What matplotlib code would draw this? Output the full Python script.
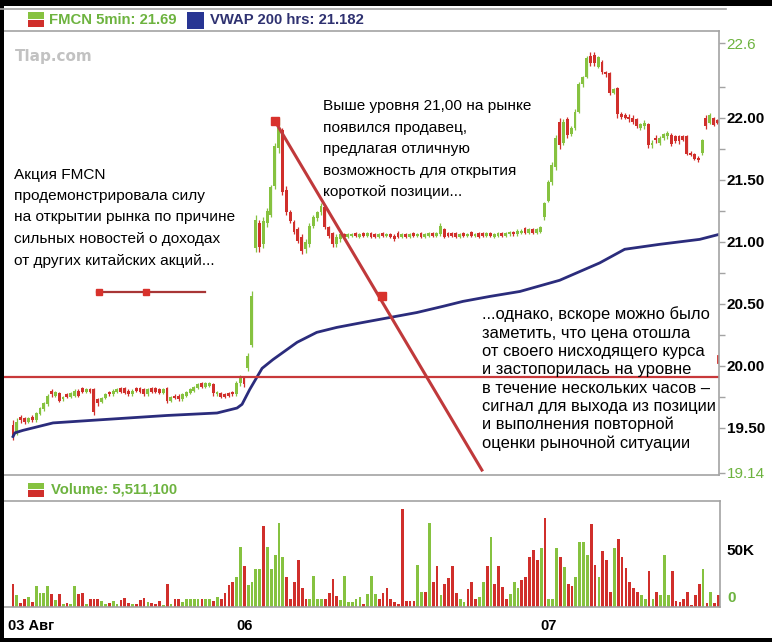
import numpy as np
import matplotlib.pyplot as plt
from matplotlib.patches import Rectangle
from matplotlib.lines import Line2D
from matplotlib.transforms import ScaledTranslation

plt.rcParams['font.family'] = ['Liberation Sans', 'DejaVu Sans']

# FMCN 5-min bars, 03 Aug (afternoon) .. 07 Aug
opens = [
    19.52, 19.45, 19.59, 19.58, 19.55, 19.59, 19.56, 19.61, 19.65, 19.69,
    19.80, 19.76, 19.78, 19.73, 19.77, 19.75, 19.76, 19.80, 19.82, 19.79,
    19.81, 19.81, 19.73, 19.71, 19.74, 19.79, 19.77, 19.79, 19.82, 19.82,
    19.80, 19.77, 19.82, 19.82, 19.81, 19.77, 19.82, 19.82, 19.81, 19.78,
    19.82, 19.72, 19.76, 19.76, 19.73, 19.76, 19.78, 19.80, 19.82, 19.86,
    19.83, 19.84, 19.85, 19.77, 19.78, 19.77, 19.78, 19.79, 19.77, 19.86,
    19.91, 19.98, 20.17, 20.95, 21.15, 20.98, 21.15, 21.22, 21.45, 21.76,
    21.90, 21.42, 21.24, 21.16, 21.10, 21.04, 20.94, 20.98, 21.13, 21.19,
    21.24, 21.28, 21.12, 21.07, 20.98, 21.02, 21.06, 21.04, 21.05, 21.07,
    21.04, 21.07, 21.05, 21.07, 21.06, 21.04, 21.07, 21.05, 21.06, 21.05,
    21.07, 21.04, 21.06, 21.04, 21.07, 21.05, 21.07, 21.04, 21.05, 21.07,
    21.05, 21.06, 21.10, 21.07, 21.07, 21.07, 21.04, 21.07, 21.05, 21.08,
    21.05, 21.07, 21.07, 21.05, 21.07, 21.04, 21.05, 21.07, 21.05, 21.06,
    21.08, 21.06, 21.07, 21.11, 21.07, 21.10, 21.07, 21.08, 21.20, 21.33,
    21.48, 21.60, 21.97, 21.80, 21.99, 21.87, 21.92, 22.05, 22.27, 22.33,
    22.50, 22.51, 22.41, 22.45, 22.37, 22.36, 22.20, 22.24, 22.03, 22.02,
    22.01, 22.00, 21.99, 21.92, 21.93, 21.95, 21.78, 21.84, 21.80, 21.84,
    21.85, 21.86, 21.85, 21.85, 21.85, 21.85, 21.72, 21.71, 21.68, 21.72,
    22.00, 21.96, 22.00, 21.98]
highs = [
    19.56, 19.58, 19.60, 19.59, 19.59, 19.60, 19.63, 19.67, 19.71, 19.77,
    19.81, 19.80, 19.79, 19.76, 19.78, 19.79, 19.81, 19.81, 19.83, 19.82,
    19.82, 19.82, 19.74, 19.75, 19.78, 19.80, 19.81, 19.82, 19.83, 19.83,
    19.81, 19.81, 19.83, 19.83, 19.82, 19.82, 19.83, 19.83, 19.82, 19.82,
    19.83, 19.76, 19.77, 19.77, 19.78, 19.80, 19.82, 19.84, 19.86, 19.87,
    19.87, 19.87, 19.86, 19.80, 19.79, 19.78, 19.79, 19.80, 19.88, 19.93,
    19.92, 20.10, 20.60, 21.22, 21.18, 21.20, 21.27, 21.46, 21.80, 22.00,
    21.92, 21.45, 21.26, 21.18, 21.12, 21.06, 21.02, 21.15, 21.22, 21.25,
    21.31, 21.30, 21.13, 21.08, 21.06, 21.07, 21.07, 21.07, 21.07, 21.08,
    21.07, 21.08, 21.08, 21.08, 21.07, 21.07, 21.08, 21.07, 21.07, 21.06,
    21.09, 21.07, 21.07, 21.07, 21.08, 21.07, 21.08, 21.07, 21.08, 21.08,
    21.08, 21.15, 21.11, 21.08, 21.08, 21.08, 21.07, 21.08, 21.07, 21.09,
    21.07, 21.08, 21.08, 21.08, 21.08, 21.07, 21.08, 21.08, 21.08, 21.09,
    21.09, 21.10, 21.10, 21.12, 21.11, 21.11, 21.11, 21.13, 21.32, 21.50,
    21.64, 21.86, 22.00, 21.99, 22.01, 21.93, 22.07, 22.29, 22.34, 22.50,
    22.53, 22.53, 22.50, 22.47, 22.38, 22.37, 22.24, 22.25, 22.05, 22.04,
    22.03, 22.02, 22.00, 21.96, 21.98, 21.96, 21.82, 21.86, 21.85, 21.88,
    21.89, 21.88, 21.86, 21.86, 21.86, 21.86, 21.73, 21.72, 21.69, 21.83,
    22.02, 22.04, 22.01, 21.99]
lows = [
    19.40, 19.44, 19.54, 19.53, 19.54, 19.55, 19.55, 19.60, 19.64, 19.68,
    19.75, 19.75, 19.71, 19.72, 19.74, 19.74, 19.75, 19.75, 19.78, 19.78,
    19.78, 19.60, 19.68, 19.70, 19.73, 19.76, 19.76, 19.78, 19.78, 19.77,
    19.76, 19.76, 19.79, 19.78, 19.76, 19.76, 19.78, 19.78, 19.77, 19.77,
    19.70, 19.71, 19.73, 19.72, 19.72, 19.75, 19.77, 19.79, 19.81, 19.82,
    19.82, 19.83, 19.76, 19.76, 19.74, 19.74, 19.75, 19.76, 19.76, 19.84,
    19.83, 19.96, 20.15, 20.92, 20.92, 20.95, 21.12, 21.20, 21.43, 21.72,
    21.38, 21.22, 21.15, 21.06, 20.99, 20.90, 20.91, 20.96, 21.11, 21.17,
    21.22, 21.10, 21.03, 20.96, 20.96, 21.00, 21.03, 21.03, 21.04, 21.04,
    21.03, 21.04, 21.04, 21.03, 21.03, 21.03, 21.04, 21.04, 21.03, 21.01,
    21.03, 21.03, 21.03, 21.03, 21.04, 21.04, 21.03, 21.03, 21.04, 21.04,
    21.04, 21.05, 21.03, 21.04, 21.04, 21.03, 21.03, 21.04, 21.04, 21.04,
    21.04, 21.03, 21.04, 21.04, 21.04, 21.03, 21.04, 21.04, 21.04, 21.05,
    21.05, 21.05, 21.06, 21.06, 21.06, 21.06, 21.06, 21.07, 21.18, 21.32,
    21.46, 21.58, 21.75, 21.78, 21.84, 21.85, 21.90, 22.04, 22.25, 22.32,
    22.42, 22.42, 22.40, 22.35, 22.33, 22.18, 22.19, 22.00, 21.99, 21.99,
    21.97, 21.95, 21.92, 21.90, 21.91, 21.76, 21.76, 21.80, 21.78, 21.82,
    21.83, 21.77, 21.80, 21.79, 21.81, 21.70, 21.69, 21.66, 21.64, 21.70,
    21.91, 21.95, 21.93, 21.95]
closes = [
    19.43, 19.55, 19.56, 19.55, 19.58, 19.56, 19.62, 19.66, 19.70, 19.76,
    19.77, 19.79, 19.72, 19.75, 19.75, 19.78, 19.80, 19.76, 19.79, 19.81,
    19.79, 19.63, 19.70, 19.74, 19.77, 19.77, 19.80, 19.81, 19.79, 19.78,
    19.77, 19.80, 19.80, 19.79, 19.77, 19.81, 19.79, 19.79, 19.78, 19.81,
    19.72, 19.75, 19.74, 19.73, 19.77, 19.79, 19.81, 19.83, 19.85, 19.83,
    19.86, 19.86, 19.78, 19.79, 19.75, 19.75, 19.76, 19.77, 19.86, 19.91,
    19.85, 20.08, 20.56, 21.18, 20.96, 21.17, 21.25, 21.44, 21.77, 21.92,
    21.40, 21.24, 21.17, 21.08, 21.01, 20.93, 21.00, 21.13, 21.20, 21.24,
    21.29, 21.12, 21.05, 20.98, 21.04, 21.06, 21.04, 21.06, 21.06, 21.05,
    21.06, 21.05, 21.07, 21.04, 21.04, 21.06, 21.05, 21.06, 21.04, 21.02,
    21.04, 21.06, 21.04, 21.06, 21.05, 21.06, 21.04, 21.06, 21.07, 21.05,
    21.07, 21.13, 21.04, 21.05, 21.05, 21.04, 21.06, 21.05, 21.06, 21.05,
    21.06, 21.04, 21.05, 21.07, 21.05, 21.06, 21.07, 21.05, 21.07, 21.08,
    21.06, 21.09, 21.09, 21.07, 21.10, 21.07, 21.10, 21.12, 21.31, 21.48,
    21.62, 21.84, 21.78, 21.97, 21.86, 21.92, 22.05, 22.27, 22.33, 22.48,
    22.44, 22.44, 22.49, 22.37, 22.35, 22.20, 22.23, 22.03, 22.01, 22.00,
    21.99, 21.97, 21.93, 21.95, 21.96, 21.78, 21.80, 21.82, 21.84, 21.87,
    21.88, 21.79, 21.81, 21.81, 21.82, 21.71, 21.70, 21.67, 21.66, 21.82,
    21.93, 22.02, 21.94, 21.96]

# volume per bar, thousands of shares, and the bar colour (G up / R down)
volume_k = [
    24, 13, 4, 9, 11, 5, 22, 15, 15, 22,
    13.5, 7, 14, 3, 4, 3, 22, 14, 15, 3.5,
    9, 9, 9, 6, 3, 4, 6, 3.5, 7, 10,
    4, 3, 3, 7, 10, 5, 4, 3, 6, 2.5,
    24, 3.5, 9, 9, 5, 9, 9, 9, 9, 8.5,
    9, 9, 6, 11, 8.5, 15, 23, 27, 32, 64,
    44, 23, 27, 40, 41, 86, 64, 41, 55, 90,
    53, 32, 9, 27, 50, 20, 9, 8, 33, 9,
    9, 9, 15, 30, 12, 7, 33, 5, 5, 9,
    11, 3.5, 14, 33, 14, 9, 15, 20.5, 9, 5,
    3.5, 105, 6, 6, 6, 45, 16, 16, 90, 27,
    44, 12.5, 24, 31, 44, 15, 8, 5, 19, 26.5,
    9, 11, 26.5, 44, 74.5, 24, 44, 21, 9, 14,
    26.5, 20, 29, 32, 53, 61, 50, 63, 95, 8,
    8, 63, 53, 43, 24, 22, 32.5, 69, 69, 55,
    89, 45, 32.5, 60, 50, 16, 63, 72, 53, 41.5,
    27, 20.5, 16, 12.5, 8, 38, 8, 16, 13, 55,
    13, 38, 6, 5, 8, 16, 2, 13, 24, 40,
    4.5, 16, 4.5, 13]
volume_dir = list(
    "RGRRGRGGGG" "RGRGRGGRRG" "RRRGGRGGRR" "RGRRRGRRRG" "RGRRGGGGGR"
    "GGRGRRRRGG" "RGGGGRGGGG" "GRRRRRRGGG" "GRRRRGGGGG" "GRGGGRRRRR"
    "RRRRRGGRGR" "RGRRRRGGRR" "RGGRGRRRRG" "GGRRRRRGRG" "GGRGRRGGGG"
    "RRGRRRGRRR" "RRRGGRGRGG" "GRRRRRRRRG" "RGRR")

# VWAP 200 hrs line, (bar index, price)
vwap_x = [0, 0.5, 2.6, 5.2, 10.4, 22.6, 40.0, 53.0, 58.2, 59.5, 61.5, 64.7,
          67.5, 73.8, 78.9, 84.1, 90.9, 97.9, 104.9, 111.7, 116.9, 123.9,
          131.7, 142.0, 152.4, 158.9, 168.0, 178.4, 183.4]
vwap_y = [19.43, 19.46, 19.48, 19.50, 19.54, 19.565, 19.60, 19.62, 19.66,
          19.69, 19.81, 19.98, 20.05, 20.19, 20.27, 20.31, 20.35, 20.39, 20.43,
          20.48, 20.52, 20.56, 20.60, 20.69, 20.83, 20.94, 20.98, 21.02, 21.06]

support_level = 19.91
trend_x = [68.0, 121.8]
trend_y = [21.976, 19.16]
trend_marks_x = [68.0, 95.8]
trend_marks_y = [21.976, 20.565]
legend_seg_x = [21.8, 49.9]
legend_seg_y = 20.597
legend_marks_x = [22.3, 34.5]
last_mark_x = 183.1
last_mark_y = [20.03, 20.08]

price_ticks = [19.5, 20.0, 20.5, 21.0, 21.5, 22.0]
price_minor = [19.75, 20.25, 20.75, 21.25, 21.75, 22.25]
edge_ticks = [19.14, 22.6]
vol_ticks = [0, 50]
vol_labels = ['0', '50K']
day_ticks = [0, 60, 139]
day_labels = ['03 Авг', '06', '07']

note_left = ["Акция FMCN", "продемонстрировала силу",
             "на открытии рынка по причине", "сильных новостей о доходах",
             "от других китайских акций..."]
note_top = ["Выше уровня 21,00 на рынке", "появился продавец,",
            "предлагая отличную", "возможность для открытия",
            "короткой позиции..."]
note_right = ["...однако, вскоре можно было", "заметить, что цена отошла",
              "от своего нисходящего курса", "и застопорилась на уровне",
              "в течение нескольких часов –", "сигнал для выхода из позиции",
              "и выполнения повторной", "оценки рыночной ситуации"]

GREEN = '#86c240'
RED = '#d02f2b'
NAVY = '#2b2c7c'
GRAY = '#a3a3a3'
LGREEN = '#6db33f'

W, H = 772, 642
fig = plt.figure(figsize=(W / 100, H / 100), dpi=100)


def box(x0, y0, x1, y1):
    return [x0 / W, 1 - y1 / H, (x1 - x0) / W, (y1 - y0) / H]


def frect(x0, y0, w, h, color):
    fig.patches.append(Rectangle((x0 / W, 1 - (y0 + h) / H), w / W, h / H,
                                 transform=fig.transFigure, color=color, lw=0))


def ftext(x, y, s, **kw):
    fig.text(x / W, 1 - y / H, s, **kw)


ax = fig.add_axes(box(4, 31, 719, 475))
axv = fig.add_axes(box(4, 501, 720, 607))

o, hi, lo, c = map(np.array, (opens, highs, lows, closes))
xs = np.arange(len(o))
cols = np.where(c >= o, GREEN, RED)
ax.vlines(xs, lo, hi, colors=cols, lw=0.9)
ax.bar(xs, np.maximum(np.abs(c - o), 0.015), bottom=np.minimum(o, c),
       width=0.75, color=cols, lw=0)

ax.plot(vwap_x, vwap_y, color=NAVY, lw=2)
ax.axhline(support_level, color='#c8383a', lw=1.6)
ax.plot(trend_x, trend_y, color='#c0393b', lw=2.2)
ax.plot(trend_marks_x, trend_marks_y, 's', ms=5.5, color='#d8322c')
ax.plot(legend_seg_x, [legend_seg_y] * 2, color='#a83636', lw=1.6)
ax.plot(legend_marks_x, [legend_seg_y] * 2, 's', ms=5, color='#d8322c')
ax.plot([last_mark_x] * 2, last_mark_y, color=RED, lw=2)

ax.set_xlim(-2.34, 183.4)
ax.set_ylim(19.12, 22.70)
ax.set_xticks([])
ax.yaxis.tick_right()
ax.set_yticks(price_ticks + edge_ticks,
              [f'{v:.2f}' for v in price_ticks] + ['19.14', '22.6'])
ax.set_yticks(price_minor, minor=True)
ax.tick_params(axis='y', which='both', direction='out', length=4, width=1,
               color=GRAY, pad=1.5, labelsize=11)
for lab in ax.get_yticklabels():
    lab.set_fontweight('bold')
    if lab.get_text() in ('19.14', '22.6'):
        lab.set_color(LGREEN)
        lab.set_fontweight('normal')

vcols = [GREEN if d == 'G' else RED for d in volume_dir]
axv.bar(xs, volume_k, width=0.72, color=vcols, lw=0)
axv.set_xlim(-2.34, 183.4)
axv.set_ylim(0, 113)
axv.yaxis.tick_right()
axv.set_yticks(vol_ticks, vol_labels)
axv.tick_params(axis='y', length=0, pad=5, labelsize=11)
up = ScaledTranslation(0, 0.11, fig.dpi_scale_trans)
for lab, col in zip(axv.get_yticklabels(), [LGREEN, 'black']):
    lab.set_transform(lab.get_transform() + up)
    lab.set_color(col)
    lab.set_fontweight('bold')
axv.set_xticks(day_ticks, day_labels)
axv.tick_params(axis='x', length=0, pad=8.5, labelsize=10.5)
for lab in axv.get_xticklabels():
    lab.set_fontweight('bold')
first = axv.get_xticklabels()[0]
first.set_ha('left')
first.set_transform(first.get_transform()
                    + ScaledTranslation(-0.05, 0, fig.dpi_scale_trans))

for a in (ax, axv):
    a.spines['left'].set_visible(False)
    for s in ('top', 'right', 'bottom'):
        a.spines[s].set_color(GRAY)
        a.spines[s].set_linewidth(1.2)

# frame and header rows
frect(0, 0, W, 6, 'black')
frect(0, 0, 4, H, 'black')
frect(0, 638, W, 4, 'black')
fig.lines.append(Line2D([0, 726 / W], [1 - 8.5 / H] * 2, color=GRAY, lw=1.2,
                        transform=fig.transFigure))

frect(28, 12, 16, 7, GREEN)
frect(28, 20, 16, 7, RED)
ftext(49, 19.5, 'FMCN 5min: 21.69', color=LGREEN, fontsize=10.7,
      fontweight='bold', va='center')
frect(187, 12, 17, 17, '#283593')
ftext(210, 19.5, 'VWAP 200 hrs: 21.182', color='#2e3170', fontsize=10.7,
      fontweight='bold', va='center')
ftext(15, 57, 'Tlap.com', color='#c2c2c2', fontsize=11, fontweight='bold',
      family='DejaVu Sans', va='center')

frect(28, 483, 16, 6, GREEN)
frect(28, 490, 16, 7, RED)
ftext(51, 490, 'Volume: 5,511,100', color=LGREEN, fontsize=10.7,
      fontweight='bold', va='center')

for k, line in enumerate(note_left):
    ftext(14, 178.5 + 21.5 * k, line, fontsize=11.1, va='baseline')
for k, line in enumerate(note_top):
    ftext(323, 110 + 21.5 * k, line, fontsize=11.1, va='baseline')
for k, line in enumerate(note_right):
    ftext(482, 319.3 + 18.35 * k, line, fontsize=11.85, va='baseline')

fig.savefig('out.png', dpi=100)
